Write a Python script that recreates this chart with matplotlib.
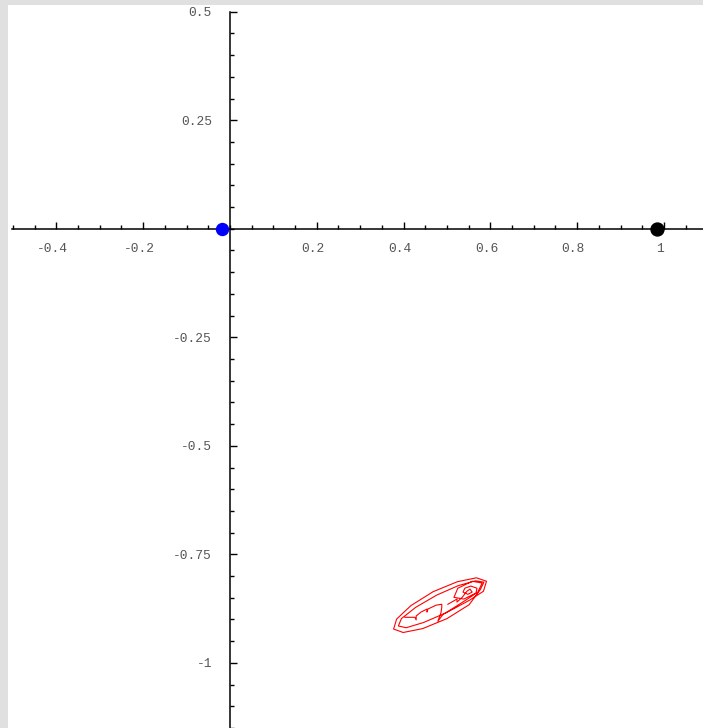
import numpy as np
import matplotlib
matplotlib.use("Agg")
from matplotlib import pyplot as plt
from matplotlib import transforms
from matplotlib.ticker import MultipleLocator, FixedLocator

plt.rcParams['axes.unicode_minus'] = False

# trajectory (data coords)
traj_x = [0.502, 0.523, 0.523, 0.535,
          0.546, 0.553, 0.558, 0.548, 0.537, 0.541, 0.555, 0.569, 0.567,
          0.539, 0.516, 0.525, 0.558, 0.581, 0.571, 0.544,
          0.497, 0.446, 0.406, 0.388, 0.395, 0.428, 0.476, 0.526, 0.566, 0.585, 0.577,
          0.551, 0.500, 0.444, 0.399, 0.377, 0.384, 0.417, 0.468, 0.524, 0.568, 0.591, 0.584,
          0.553, 0.518, 0.491, 0.479, 0.486, 0.488, 0.488, 0.475, 0.456, 0.454, 0.454,
          0.440, 0.429, 0.429, 0.426, 0.403]
traj_y = [-0.865, -0.853, -0.860, -0.849,
          -0.835, -0.830, -0.837, -0.842, -0.837, -0.828, -0.823, -0.828, -0.839,
          -0.853, -0.849, -0.828, -0.812, -0.816, -0.837, -0.855,
          -0.885, -0.907, -0.919, -0.915, -0.898, -0.872, -0.844, -0.822, -0.811, -0.814, -0.831,
          -0.866, -0.898, -0.921, -0.930, -0.922, -0.899, -0.868, -0.836, -0.813, -0.804, -0.812, -0.835,
          -0.855, -0.874, -0.888, -0.904, -0.885, -0.872, -0.865, -0.867, -0.876, -0.883, -0.876,
          -0.883, -0.892, -0.901, -0.895, -0.895]

blue_pt = (-0.018, 0.0)
black_pt = (0.984, 0.0)

x_major = [-0.4, -0.2, 0.2, 0.4, 0.6, 0.8, 1.0]
x_labels = ["-0.4", "-0.2", "0.2", "0.4", "0.6", "0.8", "1"]
y_major = [0.5, 0.25, -0.25, -0.5, -0.75, -1.0]
y_labels = ["0.5", "0.25", "-0.25", "-0.5", "-0.75", "-1"]

W, H = 703, 728
fig = plt.figure(figsize=(W / 100, H / 100), dpi=100, facecolor="#e0e0e0")
ax = fig.add_axes([8 / W, 0, (W - 8) / W, (H - 5) / H])
ax.set_facecolor("white")

ax.plot(traj_x, traj_y, color="red", lw=0.8)
ax.plot(*blue_pt, "o", color="#0000ff", ms=8.6, zorder=5, clip_on=False)
ax.plot(*black_pt, "o", color="black", ms=9.3, zorder=5, clip_on=False)

ax.set_xlim(-0.5115, 1.0899)
ax.set_ylim(-1.150, 0.5155)

for s in ["top", "right"]:
    ax.spines[s].set_visible(False)
for s in ["left", "bottom"]:
    ax.spines[s].set_position(("data", 0))
    ax.spines[s].set_linewidth(1.1)
ax.spines["bottom"].set_bounds(-0.502, 1.0899)
ax.spines["left"].set_bounds(-1.150, 0.5)

ax.xaxis.set_major_locator(FixedLocator(x_major))
ax.set_xticklabels(x_labels)
ax.xaxis.set_minor_locator(MultipleLocator(0.05))
ax.yaxis.set_major_locator(FixedLocator(y_major))
ax.set_yticklabels(y_labels)
ax.yaxis.set_minor_locator(MultipleLocator(0.05))

ax.tick_params(which="both", direction="in", color="black", width=1.0)
ax.tick_params(which="major", length=5)
ax.tick_params(which="minor", length=3)
ax.tick_params(axis="x", which="major", pad=10)
ax.tick_params(axis="y", which="major", pad=13)

shift = transforms.ScaledTranslation(-4 / 100, 0, fig.dpi_scale_trans)
for lab in ax.get_xticklabels():
    lab.set_transform(lab.get_transform() + shift)
for lab in ax.get_xticklabels() + ax.get_yticklabels():
    lab.set_family("Liberation Mono")
    lab.set_fontsize(9.3)
    lab.set_color("#555555")

fig.savefig("out.png", dpi=100, facecolor=fig.get_facecolor())
